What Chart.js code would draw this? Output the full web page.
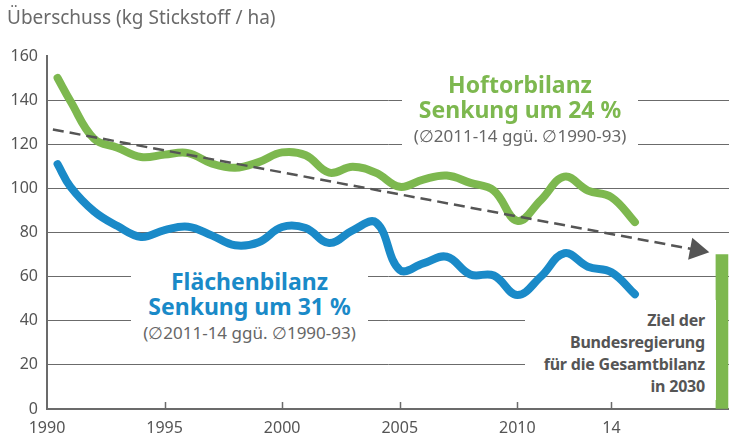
<!DOCTYPE html>
<html lang="de">
<head>
<meta charset="utf-8">
<script src="https://cdn.jsdelivr.net/npm/chart.js@4.4.1/dist/chart.umd.min.js"></script>
<style>
  html, body { margin: 0; padding: 0; background: #fff; }
  #wrap { position: relative; width: 729px; height: 438px; overflow: hidden; font-family: 'Noto Sans', sans-serif; }
  #chart { position: absolute; left: 0; top: 0; }
  .box { position: absolute; background: #fff; }
  .box div { white-space: nowrap; }
  #title { position: absolute; left: 7px; top: 4px; font-size: 19px; color: #6a6a6a; white-space: nowrap; }
  #hof { left: 402px; top: 72px; width: 236px; height: 78px; text-align: center; }
  #fla { left: 131px; top: 262px; width: 237px; height: 86px; text-align: center; }
  .head { font-weight: bold; font-size: 23px; line-height: 25px; }
  .sub { font-size: 17px; line-height: 28px; color: #666; }
  #hof .head { color: #7db84f; }
  #fla .head { color: #1a8ac8; }
  #ziel { left: 525px; top: 300px; width: 180px; height: 91px; padding-right: 11px; padding-top: 9px;
          text-align: right; font-weight: bold; font-size: 16px; letter-spacing: -0.2px; line-height: 22px; color: #555; }
</style>
</head>
<body>
<div id="wrap">
  <canvas id="chart" width="729" height="438"></canvas>
  <div id="title">Überschuss (kg Stickstoff / ha)</div>
  <div class="box" id="hof">
    <div class="head">Hoftorbilanz</div>
    <div class="head">Senkung um 24 %</div>
    <div class="sub">(∅2011-14 ggü. ∅1990-93)</div>
  </div>
  <div class="box" id="fla">
    <div class="head" style="margin-top:7px">Flächenbilanz</div>
    <div class="head">Senkung um 31 %</div>
    <div class="sub">(∅2011-14 ggü. ∅1990-93)</div>
  </div>
  <div class="box" id="ziel">
    <div>Ziel der</div>
    <div>Bundesregierung</div>
    <div>für die Gesamtbilanz</div>
    <div>in 2030</div>
  </div>
</div>
<script>
// Stickstoff-Überschuss je Hektar, 1990-2015 (erster Punkt etwas eingerückt wie im Original)
const years = [1990.45, 1991, 1992, 1993, 1994, 1995, 1996, 1997, 1998, 1999, 2000, 2001, 2002,
               2003, 2004, 2005, 2006, 2007, 2008, 2009, 2010, 2011, 2012, 2013, 2014, 2015];
const hoftorbilanz = [150, 139.5, 122.5, 118.4, 114.2, 115.3, 116, 111.3, 109.3, 111.9, 116.3, 115, 107.1,
                      109.8, 107, 100.7, 104, 105.8, 102.5, 99, 85.3, 94.7, 105.3, 99, 96, 84.7];
const flaechenbilanz = [111, 100.7, 89.6, 82.9, 78, 81.1, 82.6, 78.7, 74.2, 75.6, 82.5, 82, 75.2,
                        81, 84.5, 63, 66, 69, 61, 60.5, 51.7, 60, 70.6, 64.5, 62, 52];

// Trendpfeil und Ziel 2030
const trendX = [1990.25, 2017.62];
const trendY = [126.7, 72.1];
const goalX = [2018.7];
const goalY = [70];

// Achsenbeschriftung
const tickYears = [1990, 1995, 2000, 2005, 2010, 2014];
const tickLabels = ['1990', '1995', '2000', '2005', '2010', '14'];

const GREEN = '#7db84f';
const BLUE = '#1a8ac8';
const GREY = '#6b6b6b';

Chart.defaults.font.family = "'Noto Sans', sans-serif";

const toPoints = (xs, ys) => xs.map((x, i) => ({ x: x, y: ys[i] }));

// small tick marks pointing up from the x axis
const tickMarks = {
    id: 'tickMarks',
    afterDraw(chart) {
        const { ctx, chartArea, scales } = chart;
        ctx.save();
        ctx.strokeStyle = GREY;
        ctx.lineWidth = 1.5;
        tickYears.slice(1).forEach(v => {
            const px = Math.round(scales.x.getPixelForValue(v)) + 0.5;
            ctx.beginPath();
            ctx.moveTo(px, chartArea.bottom);
            ctx.lineTo(px, chartArea.bottom - 7);
            ctx.stroke();
        });
        ctx.restore();
    }
};

const lineStyle = { borderWidth: 8, tension: 0.4, pointRadius: 0, borderCapStyle: 'round', borderJoinStyle: 'round', fill: false };

new Chart(document.getElementById('chart'), {
    type: 'line',
    data: {
        datasets: [
            { label: 'Trend', data: toPoints(trendX, trendY), borderColor: '#555', borderWidth: 2.5, borderDash: [11, 6],
              tension: 0, pointRadius: [0, 13], pointStyle: 'triangle', rotation: [0, 100.6],
              pointBackgroundColor: '#555', pointBorderColor: '#555', pointBorderWidth: 0, order: 0 },
            Object.assign({ label: 'Hoftorbilanz', data: toPoints(years, hoftorbilanz), borderColor: GREEN, order: 1 }, lineStyle),
            Object.assign({ label: 'Flächenbilanz', data: toPoints(years, flaechenbilanz), borderColor: BLUE, order: 2 }, lineStyle),
            { type: 'bar', label: 'Ziel 2030', data: toPoints(goalX, goalY), backgroundColor: GREEN, barThickness: 12, order: 3 }
        ]
    },
    options: {
        responsive: false,
        animation: false,
        events: [],
        layout: { autoPadding: false, padding: { top: 56, left: 0, right: 0, bottom: 0 } },
        plugins: { legend: { display: false }, tooltip: { enabled: false } },
        scales: {
            x: {
                type: 'linear', min: 1990, max: 2019, offset: false,
                grid: { display: false, drawTicks: false },
                border: { color: GREY, width: 2 },
                afterBuildTicks: s => { s.ticks = tickYears.map(v => ({ value: v })); },
                afterFit: s => { s.height = 29; },
                ticks: { callback: (v, i) => tickLabels[i], color: '#555', font: { size: 16 }, padding: 10, maxRotation: 0, autoSkip: false }
            },
            y: {
                min: 0, max: 160,
                grid: { drawTicks: false, lineWidth: 1, color: c => c.tick.value === 160 ? 'rgba(0,0,0,0)' : GREY },
                border: { color: GREY, width: 2 },
                afterFit: s => { s.width = 47; },
                ticks: { stepSize: 20, color: '#555', font: { size: 16 }, padding: 9 }
            }
        }
    },
    plugins: [tickMarks]
});
</script>
</body>
</html>
